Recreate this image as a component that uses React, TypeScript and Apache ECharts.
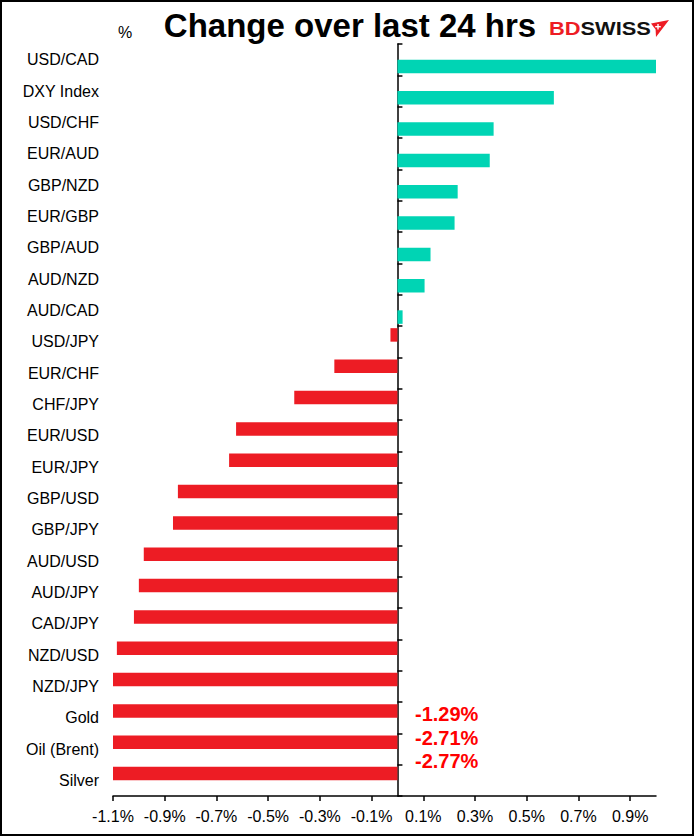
import React, { useEffect, useRef } from "react";
import * as echarts from "echarts";

const categories = [
  "USD/CAD", "DXY Index", "USD/CHF", "EUR/AUD", "GBP/NZD", "EUR/GBP", "GBP/AUD", "AUD/NZD",
  "AUD/CAD", "USD/JPY", "EUR/CHF", "CHF/JPY", "EUR/USD", "EUR/JPY", "GBP/USD", "GBP/JPY",
  "AUD/USD", "AUD/JPY", "CAD/JPY", "NZD/USD", "NZD/JPY", "Gold", "Oil (Brent)", "Silver",
];
const changes = [
  1.0, 0.605, 0.372, 0.357, 0.233, 0.221, 0.128, 0.105,
  0.02, -0.027, -0.244, -0.399, -0.624, -0.651, -0.849, -0.868,
  -0.981, -1.0, -1.019, -1.085, -1.1, -1.29, -2.71, -2.77,
];
const tickValues = [-1.1, -0.9, -0.7, -0.5, -0.3, -0.1, 0.1, 0.3, 0.5, 0.7, 0.9];
const offScale = ["Gold", "Oil (Brent)", "Silver"];
const axisMin = -1.1;
const axisMax = 1.0;

const FONT = "'Liberation Sans', Arial, sans-serif";
const UP = "#00D4B4";
const DOWN = "#ED1C24";

const gains = changes.map((v) => (v >= 0 ? v : "-"));
const losses = changes.map((v) => (v < 0 ? v : "-"));

echarts.graphic.registerShape(
  "bdIcon",
  echarts.graphic.extendPath("M0 3.5 L18 0 L5 17 L4.6 9.5 Z", {})
);

export default function App() {
  const ref = useRef<HTMLDivElement>(null);
  useEffect(() => {
    if (!ref.current) return;
    const chart = echarts.init(ref.current, null, { renderer: "svg" });
    const annotY = [715, 739, 762];
    const annotations = offScale.map((name, i) => {
      const v = changes[categories.indexOf(name)];
      return {
        type: "text",
        left: 415,
        top: annotY[i] - 11,
        style: {
          text: `${v.toFixed(2)}%`,
          fill: "#FF0000",
          font: `bold 20px ${FONT}`,
        },
      };
    });
    chart.setOption({
      animation: false,
      backgroundColor: "#ffffff",
      grid: { left: 113, right: 38, top: 44, bottom: 40, outerBoundsMode: "none" },
      xAxis: {
        type: "value",
        min: axisMin,
        max: axisMax,
        axisLine: { show: true, lineStyle: { color: "#000", width: 1.5 } },
        axisTick: { show: true, customValues: tickValues, length: 5, lineStyle: { color: "#000", width: 1.5 } },
        axisLabel: {
          customValues: tickValues,
          formatter: (v: number) => `${v.toFixed(1)}%`,
          color: "#000",
          fontSize: 16,
          fontFamily: FONT,
          margin: 12,
        },
        splitLine: { show: false },
      },
      yAxis: [
        {
          type: "category",
          data: categories,
          inverse: true,
          axisLine: { show: true, onZero: true, lineStyle: { color: "#000", width: 1.5 } },
          axisTick: { show: true, inside: true, length: 5, lineStyle: { color: "#000", width: 1.5 } },
          axisLabel: { show: false },
        },
        {
          type: "category",
          data: categories,
          inverse: true,
          position: "left",
          axisLine: { show: false, onZero: false },
          axisTick: { show: false },
          axisLabel: {
            show: true,
            color: "#000",
            fontSize: 16,
            fontFamily: FONT,
            margin: 14,
            align: "right",
          },
        },
      ],
      series: [
        {
          name: "down",
          type: "bar",
          yAxisIndex: 0,
          data: losses,
          barWidth: 13.5,
          barGap: "0%",
          clip: true,
          itemStyle: { color: DOWN },
        },
        {
          name: "up",
          type: "bar",
          yAxisIndex: 0,
          data: gains,
          barWidth: 13.5,
          barGap: "0%",
          clip: true,
          itemStyle: { color: UP },
        },
      ],
      graphic: [
        {
          type: "rect",
          shape: { x: 1, y: 1, width: 692, height: 834 },
          style: { fill: "none", stroke: "#000", lineWidth: 2 },
          silent: true,
        },
        {
          type: "text",
          left: 118,
          top: 24,
          style: { text: "%", fill: "#000", font: `16px ${FONT}` },
        },
        {
          type: "text",
          x: 350,
          y: 25,
          style: {
            text: "Change over last 24 hrs",
            fill: "#000",
            font: `bold 33px ${FONT}`,
            align: "center",
            verticalAlign: "middle",
          },
        },
        {
          type: "text",
          x: 549,
          y: 28,
          scaleX: 1.15,
          style: {
            text: "{a|BD}{b|SWISS}",
            verticalAlign: "middle",
            rich: {
              a: { fill: "#ED1C24", font: `bold 19px ${FONT}` },
              b: { fill: "#111", font: `bold 19px ${FONT}` },
            },
          },
        },
        {
          type: "bdIcon",
          x: 651,
          y: 20,
          style: { fill: "#ED1C24" },
        },
        {
          type: "line",
          shape: { x1: 658, y1: 24, x2: 658, y2: 29.5 },
          style: { stroke: "#fff", lineWidth: 1.4 },
        },
        {
          type: "line",
          shape: { x1: 655.2, y1: 26.7, x2: 660.8, y2: 26.7 },
          style: { stroke: "#fff", lineWidth: 1.4 },
        },
        ...annotations,
      ],
    });
    return () => chart.dispose();
  }, []);
  return (
    <div
      ref={ref}
      style={{ position: "fixed", left: 0, top: 0, width: 694, height: 836, background: "#fff" }}
    />
  );
}
